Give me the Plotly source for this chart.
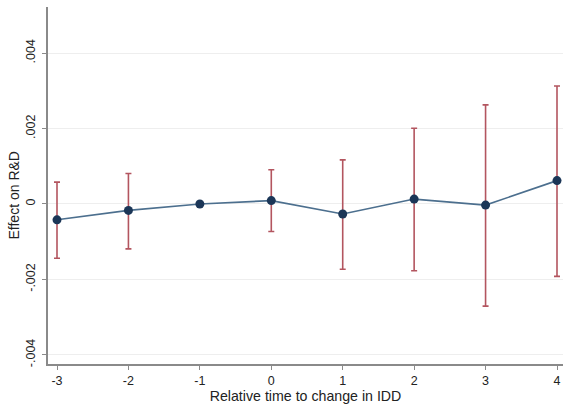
import plotly.graph_objects as go

rel_time = [-3, -2, -1, 0, 1, 2, 3, 4]
effect = [-0.00042, -0.00017, 0.0, 0.00009, -0.000265, 0.00013, -0.00003, 0.00062]
ci_hi = [0.00058, 0.00081, 0.0, 0.00091, 0.00117, 0.00201, 0.00263, 0.00313]
ci_lo = [-0.00144, -0.00119, 0.0, -0.00073, -0.00173, -0.00177, -0.00271, -0.00192]

y_tickvals = [-0.004, -0.002, 0, 0.002, 0.004]
y_ticktext = ["-.004", "-.002", "0", ".002", ".004"]
x_tickvals = [-3, -2, -1, 0, 1, 2, 3, 4]
x_ticktext = ["-3", "-2", "-1", "0", "1", "2", "3", "4"]

err_plus = [h - e for h, e in zip(ci_hi, effect)]
err_minus = [e - l for e, l in zip(effect, ci_lo)]
keep = [h != l for h, l in zip(ci_hi, ci_lo)]
err_x = [t for t, k in zip(rel_time, keep) if k]
err_y = [e for e, k in zip(effect, keep) if k]
err_p = [p for p, k in zip(err_plus, keep) if k]
err_m = [m for m, k in zip(err_minus, keep) if k]

fig = go.Figure()
fig.add_trace(go.Scatter(
    x=err_x, y=err_y, mode="markers",
    marker=dict(size=1, color="rgba(0,0,0,0)"),
    error_y=dict(type="data", symmetric=False, array=err_p, arrayminus=err_m,
                 color="#b3555f", thickness=1.6, width=3),
    showlegend=False, hoverinfo="skip", cliponaxis=False,
))
fig.add_trace(go.Scatter(
    x=rel_time, y=effect, mode="lines+markers",
    line=dict(color="#4c6f8e", width=1.6),
    marker=dict(size=9, color="#1b3657"),
    showlegend=False, cliponaxis=False,
))

fig.update_layout(
    width=563, height=411,
    margin=dict(l=48, r=0, t=7, b=47, autoexpand=False),
    paper_bgcolor="white", plot_bgcolor="white",
    font=dict(family="Liberation Sans, Arial, sans-serif", size=12.5, color="#222222"),
    annotations=[dict(
        text="Effect on R&D", textangle=-90, xref="paper", yref="paper",
        x=0, y=0.472, xanchor="center", yanchor="middle", xshift=-34,
        showarrow=False, font=dict(size=14, color="#222222"),
    )],
)
fig.update_xaxes(
    range=[-3.126, 4.084], tickvals=x_tickvals, ticktext=x_ticktext,
    showline=True, linecolor="#8a8a8a", linewidth=1.5,
    ticks="outside", ticklen=4, tickcolor="#8a8a8a",
    showgrid=False, zeroline=False, automargin=False,
    title=dict(text="Relative time to change in IDD", standoff=4, font=dict(size=14.2)),
    tickfont=dict(size=12.5),
)
fig.update_yaxes(
    range=[-0.004244, 0.005225], tickvals=y_tickvals, ticktext=y_ticktext,
    tickangle=-90, ticklabelstandoff=2,
    showline=True, linecolor="#8a8a8a", linewidth=1.5,
    ticks="outside", ticklen=4, tickcolor="#8a8a8a",
    showgrid=True, gridcolor="#eeeeee", gridwidth=1, zeroline=False,
    automargin=False,
    tickfont=dict(size=12.5),
)

fig.write_html(
    "out.html",
    config={"displayModeBar": False},
    post_script="document.body.style.margin='0';document.body.style.overflow='hidden';",
)
